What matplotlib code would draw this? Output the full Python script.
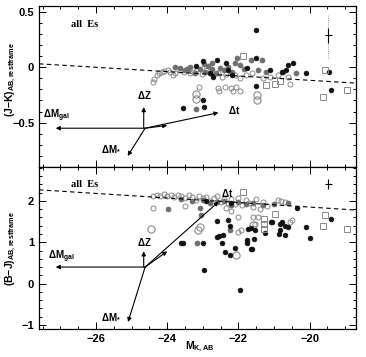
import numpy as np
import matplotlib.pyplot as plt
from matplotlib.ticker import MultipleLocator

# ---------------- top panel (J-K) ----------------
jk_open_x = [-24.41, -24.36, -24.29, -24.24, -24.16, -24.08, -23.99, -23.91, -23.85, -23.77,
             -23.65, -23.54, -23.45, -23.37, -23.29, -23.15, -23.03, -22.92, -22.81, -22.72,
             -22.58, -22.47, -22.36, -22.22, -22.10, -21.96, -21.79, -21.62, -21.30, -21.12,
             -20.89, -20.61, -23.10, -22.58, -22.39, -22.21, -22.07, -22.54, -22.16, -21.97,
             -20.56]
jk_open_y = [-0.135, -0.105, -0.075, -0.05, -0.045, -0.035, -0.03, -0.045, -0.075, -0.05,
             -0.03, -0.045, -0.02, -0.055, -0.045, -0.02, -0.065, -0.03, -0.05, -0.075,
             -0.05, -0.085, -0.065, -0.055, -0.075, -0.095, -0.075, -0.055, -0.095, -0.085,
             -0.075, -0.09, -0.175, -0.185, -0.18, -0.185, -0.175, -0.215, -0.215, -0.215,
             -0.15]
jk_bigopen_x = [-23.19, -23.19, -21.48, -21.48]
jk_bigopen_y = [-0.24, -0.285, -0.255, -0.295]
jk_gray_x = [-23.79, -23.65, -23.51, -23.37, -23.23, -23.09, -22.95, -22.86, -22.75, -22.64,
             -22.53, -22.41, -22.30, -22.18, -22.11, -22.05, -21.96, -21.85, -21.65, -21.34,
             -21.46, -21.23, -20.75, -20.38, -23.18, -23.43, -22.98, -22.75]
jk_gray_y = [0.005, -0.01, -0.03, 0.0, -0.05, -0.02, -0.04, 0.006, -0.02, -0.05,
             -0.01, -0.03, -0.003, -0.04, 0.036, 0.085, 0.015, -0.02, 0.067, 0.067,
             -0.03, -0.048, -0.048, -0.054, -0.375, -0.02, 0.025, 0.033]
jk_black_x = [-21.50, -22.35, -22.61, -22.99, -21.52, -20.61, -20.47, -20.11, -19.46, -19.41,
              -21.50, -23.00, -23.56, -22.96, -23.20, -22.81, -22.30, -21.76, -21.12, -20.78,
              -20.66, -22.18, -22.72]
jk_black_y = [0.337, 0.036, 0.067, 0.054, 0.085, 0.015, 0.036, -0.054, -0.045, -0.204,
              -0.174, -0.294, -0.366, -0.36, 0.006, -0.05, -0.03, -0.012, -0.03, -0.04,
              -0.03, -0.075, -0.085]
jk_sq_x = [-21.88, -19.56, -19.63, -18.94, -21.24, -20.96, -20.83]
jk_sq_y = [0.096, -0.023, -0.27, -0.204, -0.165, -0.156, -0.126]

# ---------------- bottom panel (B-J) ----------------
bj_open_x = [-24.40, -24.30, -24.20, -24.10, -24.00, -23.90, -23.80, -23.70, -23.60, -23.50,
             -23.40, -23.30, -23.20, -23.10, -23.00, -22.90, -22.80, -22.70, -22.60, -22.50,
             -22.40, -22.30, -22.20, -22.10, -22.00, -21.90, -21.80, -21.70, -21.60, -21.50,
             -21.40, -21.30, -21.20, -20.90, -20.80, -20.70, -24.41, -23.50, -22.35, -22.20,
             -22.00, -21.60, -21.45, -21.54, -22.01, -21.92, -20.56, -20.50]
bj_open_y = [2.13, 2.15, 2.12, 2.16, 2.13, 2.15, 2.10, 2.14, 2.12, 2.06,
             2.14, 2.10, 2.02, 2.12, 2.06, 2.10, 2.00, 2.08, 2.12, 1.98,
             2.04, 1.95, 2.05, 1.92, 2.08, 1.90, 2.02, 1.96, 1.85, 2.04,
             1.80, 1.98, 1.88, 2.02, 1.99, 1.98, 1.84, 1.88, 1.83, 1.75,
             1.60, 1.61, 1.61, 1.45, 1.25, 1.29, 1.49, 1.55]
bj_bigopen_x = [-24.45, -23.14, -23.09, -22.07, -21.60]
bj_bigopen_y = [1.33, 1.29, 1.37, 0.70, 1.41]
bj_gray_x = [-23.98, -23.17, -22.25, -23.60, -23.30, -23.00, -22.80, -22.60, -22.40, -22.20,
             -22.00, -21.80, -21.60, -21.30, -21.00, -20.60, -23.04, -23.09]
bj_gray_y = [1.80, 0.99, 1.29, 2.05, 2.00, 2.02, 1.95, 1.97, 1.99, 1.90,
             1.98, 1.92, 1.95, 1.90, 1.92, 1.95, 1.65, 1.82]
bj_black_x = [-23.60, -22.59, -22.29, -22.55, -22.46, -22.39, -22.25, -22.25, -21.73, -21.75,
              -21.77, -21.26, -21.07, -20.84, -20.60, -20.70, -21.08, -20.78, -20.70, -20.85,
              -20.83, -20.36, -20.11, -20.00, -19.41, -21.53, -21.65, -21.55, -21.65, -23.57,
              -22.99, -22.96, -21.95, -22.61, -22.44, -22.11, -21.62, -22.90, -22.20]
bj_black_y = [0.97, 1.52, 1.53, 1.15, 0.97, 0.77, 0.69, 1.39, 1.31, 1.05,
              0.97, 1.23, 1.49, 1.45, 1.37, 1.17, 1.49, 1.49, 1.39, 1.21,
              1.29, 1.82, 1.37, 1.11, 1.57, 1.29, 1.35, 1.09, 0.83, 0.97,
              0.99, 0.32, -0.16, 1.13, 1.17, 0.85, 0.83, 2.00, 1.95]
bj_sq_x = [-21.88, -20.96, -21.27, -21.27, -21.27, -19.56, -19.63, -18.94]
bj_sq_y = [2.22, 1.69, 1.57, 1.43, 1.31, 1.67, 1.39, 1.33]

# fitted relations (dashed)
fit_x = [-27.6, -18.7]
jk_fit_y = [0.03, -0.144]
bj_fit_y = [2.27, 1.78]

plt.rcParams['font.family'] = ['Liberation Sans', 'DejaVu Sans']
plt.rcParams['mathtext.fontset'] = 'custom'
plt.rcParams['mathtext.rm'] = 'Liberation Sans:bold'
plt.rcParams['mathtext.it'] = 'Liberation Sans:bold'
plt.rcParams['mathtext.default'] = 'rm'

fig = plt.figure(figsize=(3.66, 3.57), dpi=100)
ax1 = fig.add_axes([0.1066, 0.532, 0.866, 0.451])
ax2 = fig.add_axes([0.1066, 0.0784, 0.866, 0.4536])

gray = '#6e6e6e'
ogray = '#8a8a8a'


def draw_points(ax, ox, oy, bx, by, gx, gy, kx, ky, sx, sy):
    ax.plot(ox, oy, 'o', ms=3.6, mfc='none', mec=ogray, mew=0.7)
    ax.plot(bx, by, 'o', ms=5.2, mfc='none', mec=ogray, mew=0.8)
    ax.plot(gx, gy, 'o', ms=3.6, mfc=gray, mec=gray, mew=0.5)
    ax.plot(kx, ky, 'o', ms=3.4, mfc='#111111', mec='#111111', mew=0.5)
    ax.plot(sx, sy, 's', ms=4.4, mfc='none', mec=ogray, mew=0.7)


def arrow(ax, x0, y0, x1, y1):
    ax.annotate('', xy=(x1, y1), xytext=(x0, y0),
                arrowprops=dict(arrowstyle='-|>', lw=0.8, color='k',
                                mutation_scale=6, shrinkA=0, shrinkB=0))


draw_points(ax1, jk_open_x, jk_open_y, jk_bigopen_x, jk_bigopen_y, jk_gray_x, jk_gray_y,
            jk_black_x, jk_black_y, jk_sq_x, jk_sq_y)
draw_points(ax2, bj_open_x, bj_open_y, bj_bigopen_x, bj_bigopen_y, bj_gray_x, bj_gray_y,
            bj_black_x, bj_black_y, bj_sq_x, bj_sq_y)

ax1.plot(fit_x, jk_fit_y, 'k--', lw=0.8, dashes=(4, 3))
ax2.plot(fit_x, bj_fit_y, 'k--', lw=0.8, dashes=(4, 3))

# vectors, top
x0, y0 = -24.62, -0.55
arrow(ax1, x0, y0, -27.13, y0)
arrow(ax1, -24.66, y0, -24.66, -0.36)
arrow(ax1, x0, y0, -25.11, -0.80)
arrow(ax1, x0, y0, -24.0, -0.525)
arrow(ax1, x0, y0, -22.56, -0.41)
tk = dict(fontsize=7, fontweight='bold')
ax1.text(-27.5, -0.46, r'$\Delta$M$_{\rm gal}$', **tk)
ax1.text(-24.64, -0.29, r'$\Delta$Z', ha='center', **tk)
ax1.text(-25.85, -0.76, r'$\Delta$M$_{*}$', **tk)
ax1.text(-22.28, -0.42, r'$\Delta$t', **tk)

# vectors, bottom
x0, y0 = -24.62, 0.40
arrow(ax2, x0, y0, -27.13, y0)
arrow(ax2, -24.66, y0, -24.66, 0.78)
arrow(ax2, x0, y0, -25.1, -0.93)
arrow(ax2, x0, y0, -24.0, 0.78)
arrow(ax2, x0, y0, -22.56, 1.98)
ax2.text(-27.34, 0.58, r'$\Delta$M$_{\rm gal}$', **tk)
ax2.text(-24.64, 0.92, r'$\Delta$Z', ha='center', **tk)
ax2.text(-25.86, -0.87, r'$\Delta$M$_{*}$', **tk)
ax2.text(-22.5, 2.1, r'$\Delta$t', **tk)

# typical errors
ax1.plot([-19.48, -19.48], [0.08, 0.48], color='#777777', lw=0.6, ls=':')
ax1.errorbar([-19.48], [0.286], xerr=0.1, yerr=0.07, fmt='none', ecolor='k', elinewidth=0.8, capsize=0)
ax2.errorbar([-19.48], [2.40], xerr=0.1, yerr=0.12, fmt='none', ecolor='k', elinewidth=0.8, capsize=0)

for ax in (ax1, ax2):
    ax.text(-26.69, ax is ax1 and 0.385 or 2.40, 'all  Es', family='Liberation Serif',
            fontsize=7.5, fontweight='bold', va='center')
    ax.set_xlim(-27.6, -18.7)
    ax.xaxis.set_major_locator(MultipleLocator(2))
    ax.xaxis.set_minor_locator(MultipleLocator(0.5))
    ax.tick_params(which='both', direction='in', top=True, right=True, labelsize=8, width=0.7)
    ax.tick_params(which='major', length=5)
    ax.tick_params(which='minor', length=2.5)
    for sp in ax.spines.values():
        sp.set_linewidth(0.9)

ax1.set_ylim(-0.9, 0.55)
ax1.yaxis.set_minor_locator(MultipleLocator(0.1))
ax1.set_yticks([-0.5, 0, 0.5])
ax1.set_yticklabels(['\u22120.5', '0', '0.5'], fontweight='bold')
ax1.tick_params(labelbottom=False)

ax2.set_ylim(-1.1, 2.82)
ax2.yaxis.set_minor_locator(MultipleLocator(0.2))
ax2.set_yticks([-1, 0, 1, 2])
ax2.set_yticklabels(['\u22121', '0', '1', '2'], fontweight='bold')
ax2.set_xticks([-26, -24, -22, -20])
ax2.set_xticklabels(['\u221226', '\u221224', '\u221222', '\u221220'], fontweight='bold')

fig.text(0.028, 1 - 80 / 357, r'(J$-$K)$_{\rm AB,restframe}$', rotation=90,
         ha='center', va='center', fontsize=7.5, fontweight='bold')
fig.text(0.028, 1 - 249 / 357, r'(B$-$J)$_{\rm AB,restframe}$', rotation=90,
         ha='center', va='center', fontsize=7.5, fontweight='bold')
fig.text(200 / 366, 1 - 347 / 357, r'M$_{\rm K,AB}$', ha='center', va='center',
         fontsize=7.5, fontweight='bold')

fig.savefig('out.png', dpi=100)
